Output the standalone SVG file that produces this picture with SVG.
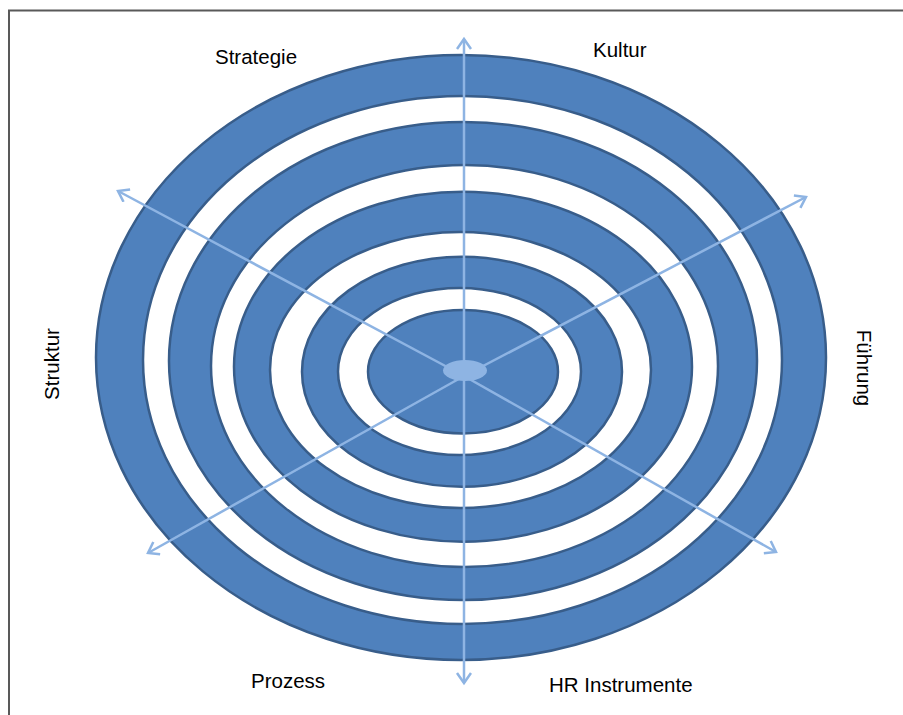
<svg xmlns="http://www.w3.org/2000/svg" width="903" height="715" viewBox="0 0 903 715">
  <style>
    .ring { fill: #4f81bd; fill-rule: evenodd; stroke: #385d8a; stroke-width: 2.5; }
    .axis { stroke: #8eb4e3; stroke-width: 2.5; fill: none; }
    .lbl { font-family: "Liberation Sans", Arial, sans-serif; font-size: 20.5px; fill: #000; }
    .frame { stroke: #595959; stroke-width: 2; fill: none; }
  </style>
  <defs>
    <marker id="arr" markerUnits="userSpaceOnUse" markerWidth="20" markerHeight="20" refX="12" refY="8" orient="auto">
      <path d="M2,1 L12,8 L2,15" fill="none" stroke="#8eb4e3" stroke-width="2.5"/>
    </marker>
  </defs>
  <rect x="0" y="0" width="903" height="715" fill="#ffffff"/>
  <path class="frame" d="M9,715 L9,10.5 L903,10.5"/>

  <g id="ring1">
    <path class="ring" d="M96,357.5 a365,302.5 0 1,0 730,0 a365,302.5 0 1,0 -730,0 Z M143,360 a319.5,264 0 1,0 639,0 a319.5,264 0 1,0 -639,0 Z"/>
  </g>
  <g id="ring2">
    <path class="ring" d="M169,361 a294,239 0 1,0 588,0 a294,239 0 1,0 -588,0 Z M211,366 a253.5,201 0 1,0 507,0 a253.5,201 0 1,0 -507,0 Z"/>
  </g>
  <g id="ring3">
    <path class="ring" d="M234,366.7 a229,175 0 1,0 458,0 a229,175 0 1,0 -458,0 Z M270,370 a190.5,138 0 1,0 381,0 a190.5,138 0 1,0 -381,0 Z"/>
  </g>
  <g id="ring4">
    <path class="ring" d="M302,371.7 a160,115 0 1,0 320,0 a160,115 0 1,0 -320,0 Z M338,371.5 a121.5,83.5 0 1,0 243,0 a121.5,83.5 0 1,0 -243,0 Z"/>
  </g>
  <g id="core">
    <ellipse class="ring" cx="463" cy="371.7" rx="95" ry="61.7"/>
  </g>

  <g id="connectors">
    <line class="axis" x1="464" y1="370" x2="464" y2="39" marker-end="url(#arr)"/>
    <line class="axis" x1="464" y1="370" x2="464" y2="683" marker-end="url(#arr)"/>
    <line class="axis" x1="464" y1="376" x2="118" y2="191" marker-end="url(#arr)"/>
    <line class="axis" x1="464" y1="376" x2="776" y2="552" marker-end="url(#arr)"/>
    <line class="axis" x1="464" y1="376" x2="806" y2="197" marker-end="url(#arr)"/>
    <line class="axis" x1="464" y1="376" x2="148" y2="553" marker-end="url(#arr)"/>
  </g>

  <g id="hub">
    <ellipse cx="465" cy="370.5" rx="22" ry="10.5" fill="#8eb4e3"/>
  </g>

  <g id="label-strategie"><text class="lbl" x="215" y="64">Strategie</text></g>
  <g id="label-kultur"><text class="lbl" x="593" y="57">Kultur</text></g>
  <g id="label-struktur"><text class="lbl" text-anchor="middle" transform="translate(59,364) rotate(-90)">Struktur</text></g>
  <g id="label-fuehrung"><text class="lbl" text-anchor="middle" transform="translate(857,368) rotate(90)">Führung</text></g>
  <g id="label-prozess"><text class="lbl" x="251" y="688">Prozess</text></g>
  <g id="label-hr"><text class="lbl" x="549" y="692">HR Instrumente</text></g>
</svg>
